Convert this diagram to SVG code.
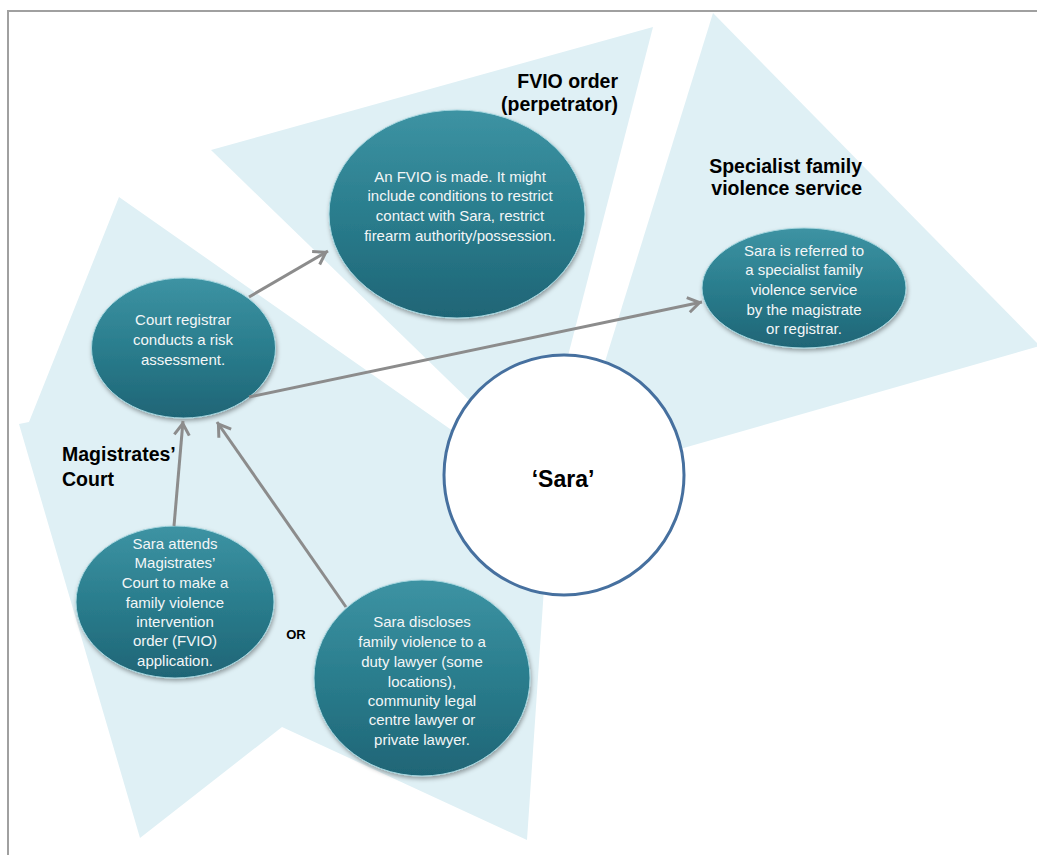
<svg xmlns="http://www.w3.org/2000/svg" width="1037" height="855" viewBox="0 0 1037 855">
<style>
.wedge { fill:#dff0f5; stroke:none; }
.node { stroke:#a6d6df; stroke-width:1; fill:url(#tg); filter:url(#sh); }
.nt { font-family:"Liberation Sans", Arial, sans-serif; font-size:15px; fill:#f3f6f7; text-anchor:middle; }
.lb { font-family:"Liberation Sans", Arial, sans-serif; font-size:19.5px; font-weight:bold; fill:#000; }
.conn { stroke:#8c8c8c; stroke-width:3; fill:none; marker-end:url(#arr); }
</style>
<defs>
<linearGradient id="tg" x1="0" y1="0" x2="0" y2="1">
<stop offset="0" stop-color="#3d93a3"/>
<stop offset="0.5" stop-color="#2a7d8d"/>
<stop offset="1" stop-color="#1f6576"/>
</linearGradient>
<filter id="sh" x="-20%" y="-20%" width="140%" height="140%">
<feDropShadow dx="1" dy="2.5" stdDeviation="2" flood-color="#000" flood-opacity="0.35"/>
</filter>
<marker id="arr" markerUnits="userSpaceOnUse" markerWidth="30" markerHeight="30" viewBox="-20 -15 30 30" refX="0" refY="0" orient="auto" overflow="visible">
<path d="M-14,-7.5 L-2.5,0 L-14,7.5" fill="none" stroke="#8c8c8c" stroke-width="3" stroke-linejoin="miter"/>
</marker>
</defs>
<rect x="0" y="0" width="1037" height="855" fill="#fff"/>
<rect x="8" y="11" width="1060" height="870" fill="none" stroke="#a0a0a0" stroke-width="2"/>

<g id="wedges">
<polygon class="wedge" points="211,150 653,27 539,468"/>
<polygon class="wedge" points="713,13 1040,346 568,481"/>
<polygon class="wedge" points="119,197 550,499 527,840 282,727 140,838 19,424 29,422"/>
</g>

<g id="labels">
<text class="lb" x="618" y="88" text-anchor="end">FVIO order</text>
<text class="lb" x="618" y="111" text-anchor="end">(perpetrator)</text>
<text class="lb" x="862" y="173" text-anchor="end">Specialist family</text>
<text class="lb" x="862" y="195" text-anchor="end">violence service</text>
<text class="lb" x="62" y="461">Magistrates’</text>
<text class="lb" x="62" y="486">Court</text>
<text class="lb" x="296" y="639" text-anchor="middle" style="font-size:13px">OR</text>
</g>

<g id="sara">
<circle cx="564" cy="475" r="120" fill="#fff" stroke="#46709f" stroke-width="3"/>
<text x="563" y="487" text-anchor="middle" style="font-family:'Liberation Sans', Arial, sans-serif; font-size:23px; font-weight:bold; fill:#000">‘Sara’</text>
</g>

<g id="fvio">
<ellipse class="node" cx="457" cy="214" rx="128" ry="104"/>
<text class="nt" x="460" y="181.5">An FVIO is made. It might</text>
<text class="nt" x="460" y="201">include conditions to restrict</text>
<text class="nt" x="460" y="220.5">contact with Sara, restrict</text>
<text class="nt" x="460" y="240.5">firearm authority/possession.</text>
</g>

<g id="registrar">
<ellipse class="node" cx="183.5" cy="348" rx="92" ry="70"/>
<text class="nt" x="183" y="324.5">Court registrar</text>
<text class="nt" x="183" y="344.5">conducts a risk</text>
<text class="nt" x="183" y="364.5">assessment.</text>
</g>

<g id="specialist">
<ellipse class="node" cx="804" cy="288" rx="102" ry="60"/>
<text class="nt" x="804" y="255.5">Sara is referred to</text>
<text class="nt" x="804" y="274.5">a specialist family</text>
<text class="nt" x="804" y="294.5">violence service</text>
<text class="nt" x="804" y="314.5">by the magistrate</text>
<text class="nt" x="804" y="333.5">or registrar.</text>
</g>

<g id="attends">
<ellipse class="node" cx="175" cy="602" rx="99" ry="76"/>
<text class="nt" x="175" y="548.5">Sara attends</text>
<text class="nt" x="175" y="567.5">Magistrates’</text>
<text class="nt" x="175" y="587.5">Court to make a</text>
<text class="nt" x="175" y="607.5">family violence</text>
<text class="nt" x="175" y="626.5">intervention</text>
<text class="nt" x="175" y="646">order (FVIO)</text>
<text class="nt" x="175" y="665.5">application.</text>
</g>

<g id="discloses">
<ellipse class="node" cx="422" cy="678" rx="108" ry="98"/>
<text class="nt" x="422" y="626.5">Sara discloses</text>
<text class="nt" x="422" y="646.5">family violence to a</text>
<text class="nt" x="422" y="666.5">duty lawyer (some</text>
<text class="nt" x="422" y="686.5">locations),</text>
<text class="nt" x="422" y="705.5">community legal</text>
<text class="nt" x="422" y="724.5">centre lawyer or</text>
<text class="nt" x="422" y="744.5">private lawyer.</text>
</g>

<g id="connectors">
<line class="conn" x1="249" y1="297" x2="328" y2="251"/>
<line class="conn" x1="249" y1="397" x2="702" y2="302"/>
<line class="conn" x1="174" y1="526" x2="183" y2="421"/>
<line class="conn" x1="346" y1="607" x2="217" y2="422"/>
</g>
</svg>
